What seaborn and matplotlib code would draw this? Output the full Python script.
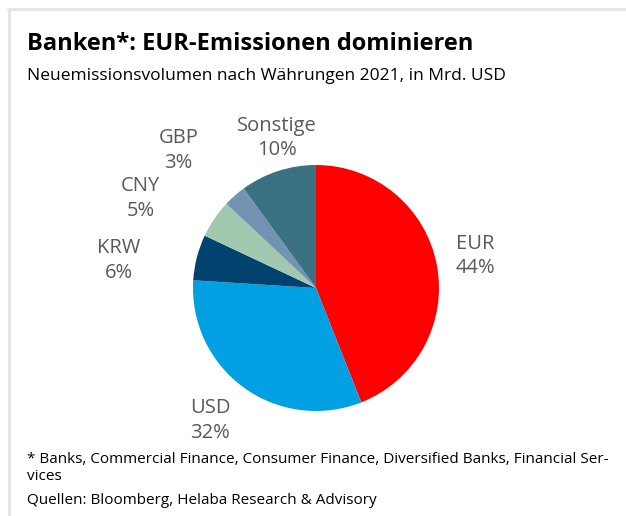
import numpy as np
import matplotlib
matplotlib.use("Agg")
import matplotlib.pyplot as plt
import seaborn as sns
from matplotlib.lines import Line2D

categories = ["EUR", "USD", "KRW", "CNY", "GBP", "Sonstige"]
shares = [44, 32, 6, 5, 3, 10]
colors = ["#ff0000", "#00a0e2", "#00436e", "#a2c9b0", "#7393b3", "#3a7283"]
label_texts = ["EUR\n44%", "USD\n32%", "KRW\n6%", "CNY\n5%", "GBP\n3%", "Sonstige\n10%"]
# label placement (distance in radii, angular tweak in degrees)
label_dist = [1.32, 1.38, 1.62, 1.60, 1.58, 1.26]
label_dang = [0.6, -2.6, 6.4, 7.2, 3.6, -3.4]

title = "Banken*: EUR-Emissionen dominieren"
subtitle = "Neuemissionsvolumen nach Währungen 2021, in Mrd. USD"
footnote = "* Banks, Commercial Finance, Consumer Finance, Diversified Banks, Financial Ser-\nvices"
source = "Quellen: Bloomberg, Helaba Research & Advisory"

sns.set_theme(style="white")
plt.rcParams["font.family"] = ["Open Sans", "DejaVu Sans"]

W, H = 626, 516
fig = plt.figure(figsize=(W / 100, H / 100), dpi=100)
fig.patch.set_facecolor("white")

# pie axes: center (316, 288) px, radius 123 px, limits +-1.7
lim = 1.7
R = 123
side = 2 * lim * R
cx, cy = 316, 288
ax = fig.add_axes([(cx - side / 2) / W, (H - cy - side / 2) / H, side / W, side / H])

wedges, _ = ax.pie(shares, colors=colors, startangle=90, counterclock=False,
                   radius=1.0, wedgeprops=dict(linewidth=0))
ax.set_xlim(-lim, lim)
ax.set_ylim(-lim, lim)
ax.set_aspect("equal")
ax.axis("off")

for w, txt, d, da in zip(wedges, label_texts, label_dist, label_dang):
    mid = np.deg2rad((w.theta1 + w.theta2) / 2 + da)
    ax.text(d * np.cos(mid), d * np.sin(mid), txt, ha="center", va="center",
            fontsize=14.5, color="#595959", linespacing=1.3)

# frame lines (light gray top and left)
fig.add_artist(Line2D([8 / W, 1], [1 - 9 / H, 1 - 9 / H], color="#e6e6e6", lw=2.2,
                      transform=fig.transFigure))
fig.add_artist(Line2D([9 / W, 9 / W], [0, 1 - 9 / H], color="#e6e6e6", lw=2.2,
                      transform=fig.transFigure))

fig.text(27 / W, 1 - 44 / H, title, fontsize=17, fontweight="bold", color="black",
         ha="left", va="center")
fig.text(27 / W, 1 - 76 / H, subtitle, fontsize=12.5, color="black", ha="left", va="center")
fig.text(27 / W, 1 - 468 / H, footnote, fontsize=11, color="black", ha="left", va="center",
         linespacing=1.2)
fig.text(27 / W, 1 - 500 / H, source, fontsize=11, color="black", ha="left", va="center")

fig.savefig("out.png", dpi=100)
